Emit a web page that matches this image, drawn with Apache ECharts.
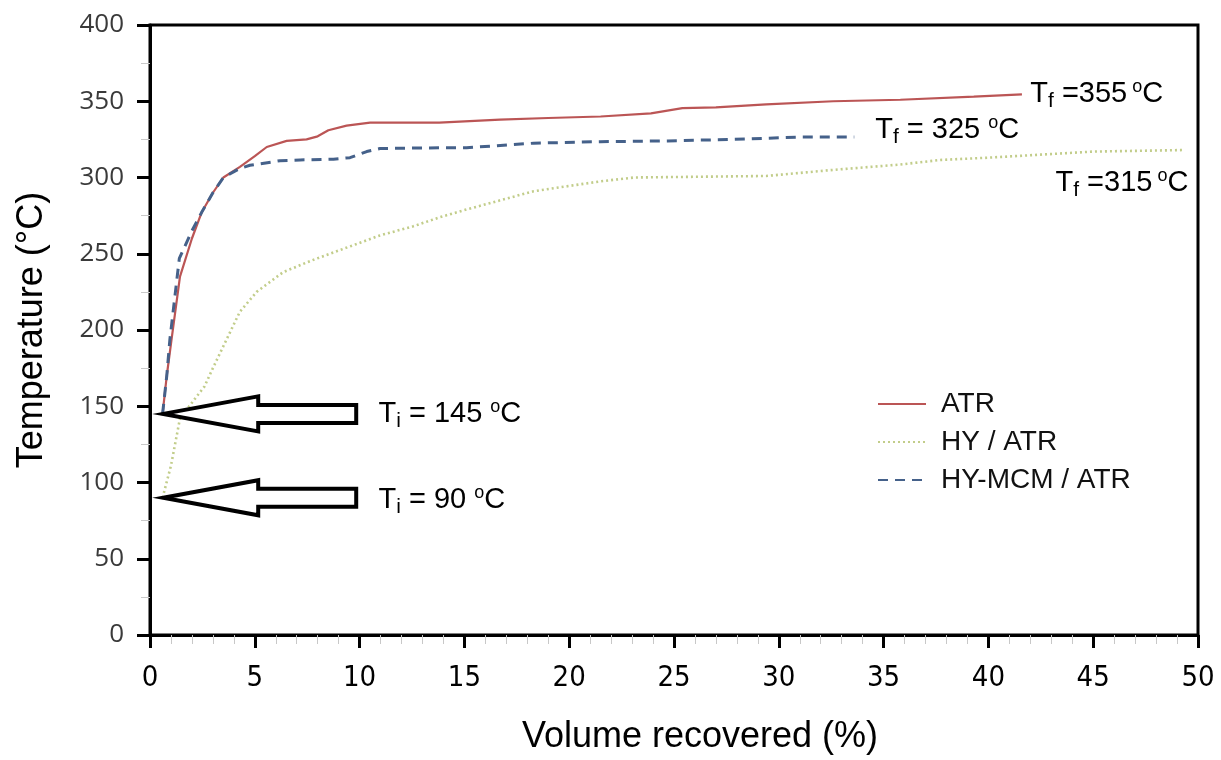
<!DOCTYPE html>
<html>
<head>
<meta charset="utf-8">
<script src="https://cdn.jsdelivr.net/npm/echarts@6/dist/echarts.min.js"></script>
<style>html,body{margin:0;padding:0;background:#fff;}#c{width:1221px;height:760px;}</style>
</head>
<body>
<div id="c"></div>
<script>
// ---- data (volume recovered %, temperature °C) ----
const atrX = [0.6, 0.8, 1.03, 1.43, 2.0, 2.46, 3.0, 3.5, 4.29, 5.0, 5.57, 6.52, 7.47, 8.0, 8.51, 9.38, 10.5, 12, 13.8, 16.7, 19, 21.5, 23.9, 25.4, 27, 29.4, 32.6, 35.8, 39.3, 41.6];
const atrY = [145, 170, 194, 235, 260, 277, 290, 300, 307, 314, 320, 324, 325, 327, 331, 334, 336, 336, 336, 338, 339, 340, 342, 345.5, 346, 348, 350, 351, 353, 354.5];
const hyX = [0.6, 1.0, 1.43, 2.15, 2.6, 3.0, 3.66, 4.29, 5.09, 6.36, 7.79, 9.38, 10.97, 12.56, 13.84, 15.1, 18.3, 21.5, 23.1, 26.2, 29.4, 31.0, 32.6, 35.8, 37.7, 40, 42.5, 45, 49.3];
const hyY = [90, 111, 142, 155, 163, 175, 194, 212, 225, 238, 246, 254, 262, 268, 274, 279, 291, 297.5, 300, 300.5, 301, 303, 305, 308.5, 311.5, 313, 315, 317, 318];
const mcmX = [0.6, 0.8, 0.95, 1.4, 2.0, 2.46, 3.0, 3.5, 4.29, 4.77, 6.2, 7.16, 8.75, 9.54, 10.34, 10.97, 13.84, 15.1, 18.3, 21.5, 24.7, 27.8, 31, 33.6];
const mcmY = [145, 170, 194, 247, 265, 277, 290, 300, 306, 308, 311, 311.5, 312, 313, 317, 319, 319.5, 319.5, 322.5, 323.5, 324, 325, 326.5, 326.5];
const seriesNames = ['ATR', 'HY / ATR', 'HY-MCM / ATR'];
const yTicks = [0, 50, 100, 150, 200, 250, 300, 350, 400];
const xTicks = [0, 5, 10, 15, 20, 25, 30, 35, 40, 45, 50];
// annotations: [x, y] anchor in data space, rich text
const tfLabels = [
  { at: [42.0, 354.5], text: '{t|T}{sub|f}{n| =355}{sup| o}{n|C}' },
  { at: [34.6, 331], text: '{t|T}{sub|f}{n| = 325 }{sup|o}{n|C}' },
  { at: [43.2, 296.5], text: '{t|T}{sub|f}{n| =315}{sup| o}{n|C}' },
  { at: [10.9, 145], text: '{t|T}{sub|i}{n| = 145 }{sup|o}{n|C}' },
  { at: [10.9, 88.5], text: '{t|T}{sub|i}{n| = 90 }{sup|o}{n|C}' }
];
const arrowTips = [[0.63, 145], [0.63, 90]];

const zip = (xs, ys) => xs.map((x, i) => [x, ys[i]]);
const chart = echarts.init(document.getElementById('c'), null, { renderer: 'canvas' });
const FONT = '"Liberation Sans", Arial, sans-serif';
const NARROW = '"Liberation Sans Narrow", "Arial Narrow", "DejaVu Sans Condensed", sans-serif';
const C_ATR = '#bb5555', C_HY = '#c2cd8a', C_MCM = '#45618a';

chart.setOption({
  animation: false,
  backgroundColor: '#fff',
  grid: { left: 150, right: 23, top: 25, bottom: 123, show: true, borderColor: '#000', borderWidth: 3 },
  xAxis: {
    type: 'value', min: xTicks[0], max: xTicks[xTicks.length - 1], interval: 5,
    name: 'Volume recovered (%)', nameLocation: 'middle', nameGap: 84,
    nameTextStyle: { fontSize: 36, fontFamily: FONT, color: '#000', padding: [0, 0, 0, 52] },
    axisLine: { show: true, lineStyle: { color: '#000', width: 3 } },
    axisTick: { show: true, length: 13, lineStyle: { color: '#000', width: 3 } },
    minorTick: { show: true, splitNumber: 5, length: 9, lineStyle: { color: '#c8c8c8', width: 1 } },
    axisLabel: { margin: 29, fontSize: 29, fontFamily: NARROW, color: '#000' },
    splitLine: { show: false }
  },
  yAxis: {
    type: 'value', min: yTicks[0], max: yTicks[yTicks.length - 1], interval: 50,
    name: 'Temperature (\u00B0C)', nameLocation: 'middle', nameGap: 100,
    nameTextStyle: { fontSize: 36, fontFamily: FONT, color: '#000' },
    axisLine: { show: true, lineStyle: { color: '#000', width: 3 } },
    axisTick: { show: true, length: 13, lineStyle: { color: '#000', width: 3 } },
    minorTick: { show: true, splitNumber: 2, length: 9, lineStyle: { color: '#c8c8c8', width: 1 } },
    axisLabel: { margin: 26, fontSize: 26, fontFamily: '"Open Sans", sans-serif', color: '#3a3a3a' },
    splitLine: { show: false }
  },
  legend: {
    orient: 'vertical', left: 872, top: 385, itemWidth: 48, itemHeight: 14, itemGap: 10,
    data: seriesNames,
    itemStyle: { opacity: 0 },
    textStyle: { fontSize: 28, fontFamily: FONT, color: '#111', padding: [0, 0, 0, 10] }
  },
  series: [
    { name: seriesNames[0], type: 'line', data: zip(atrX, atrY), showSymbol: false, symbol: 'none',
      lineStyle: { color: C_ATR, width: 2.2 }, itemStyle: { color: C_ATR }, z: 3 },
    { name: seriesNames[1], type: 'line', data: zip(hyX, hyY), showSymbol: false, symbol: 'none',
      lineStyle: { color: C_HY, width: 2.6, type: [2, 3] }, itemStyle: { color: C_HY }, z: 2 },
    { name: seriesNames[2], type: 'line', data: zip(mcmX, mcmY), showSymbol: false, symbol: 'none',
      lineStyle: { color: C_MCM, width: 3, type: [10, 7] }, itemStyle: { color: C_MCM }, z: 4 }
  ]
});

// annotations positioned via the chart's own coordinate system
const rich = {
  t: { fontSize: 29, fontFamily: FONT, color: '#111' },
  n: { fontSize: 29, fontFamily: FONT, color: '#111' },
  sub: { fontSize: 21, fontFamily: FONT, color: '#111', padding: [14, 0, 0, 0] },
  sup: { fontSize: 18, fontFamily: FONT, color: '#111', padding: [0, 0, 14, 0] }
};
const graphics = [];
tfLabels.forEach(l => {
  const p = chart.convertToPixel({ gridIndex: 0 }, l.at);
  graphics.push({ type: 'text', x: p[0], y: p[1], z: 10,
    style: { text: l.text, rich: rich, align: 'left', verticalAlign: 'middle' } });
});
arrowTips.forEach(t => {
  const p = chart.convertToPixel({ gridIndex: 0 }, t);
  const shape = [[0, 0], [95, -17.5], [95, -9], [193, -9], [193, 9], [95, 9], [95, 17.5]];
  graphics.push({ type: 'polygon', z: 10,
    shape: { points: shape.map(q => [p[0] + q[0], p[1] + q[1]]) },
    style: { fill: '#fff', stroke: '#000', lineWidth: 4, lineJoin: 'miter' } });
});
chart.setOption({ graphic: graphics });
</script>
</body>
</html>
